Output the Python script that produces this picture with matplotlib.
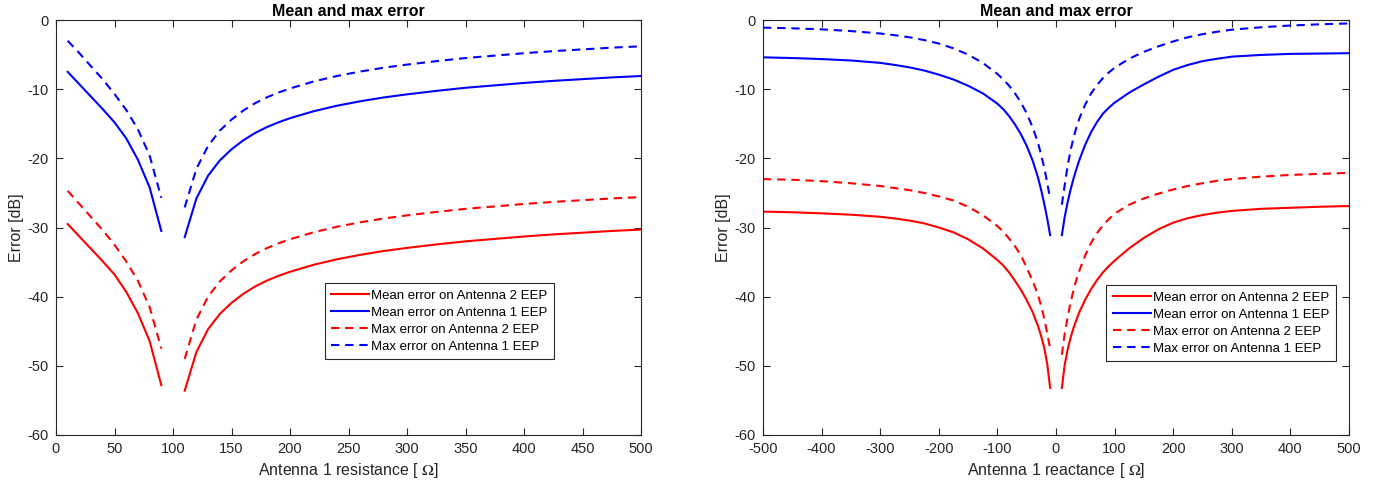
import numpy as np
import matplotlib
matplotlib.use('Agg')
import matplotlib.pyplot as plt

plt.rcParams['font.family'] = ['Liberation Sans', 'DejaVu Sans']
plt.rcParams['mathtext.fontset'] = 'stix'
plt.rcParams['axes.unicode_minus'] = False

nan = np.nan

# ---- left panel: sweep of antenna 1 resistance ----
res = [10, 20, 30, 40, 50, 60, 70, 80, 90, 100,
       110, 120, 130, 140, 150, 160, 170, 180, 190, 200,
       220, 240, 260, 280, 300, 325, 350, 375, 400, 425, 450, 475, 500]

res_mean_ant2 = [-29.5, -31.3, -33.1, -34.9, -36.8, -39.3, -42.4, -46.4, -52.8, nan,
                 -53.6, -48.0, -44.7, -42.5, -40.9, -39.6, -38.55, -37.7, -37.0, -36.4,
                 -35.4, -34.6, -33.95, -33.4, -32.95, -32.45, -32.0, -31.65, -31.3, -31.0, -30.75, -30.5, -30.3]
res_mean_ant1 = [-7.5, -9.3, -11.1, -12.9, -14.8, -17.1, -20.2, -24.2, -30.5, nan,
                 -31.4, -25.8, -22.5, -20.3, -18.7, -17.4, -16.35, -15.5, -14.8, -14.2,
                 -13.2, -12.4, -11.75, -11.2, -10.75, -10.25, -9.8, -9.45, -9.1, -8.8, -8.55, -8.3, -8.1]
res_max_ant2 = [-24.7, -26.6, -28.5, -30.4, -32.5, -34.9, -37.7, -41.5, -47.5, nan,
                -49.0, -43.3, -40.0, -37.8, -36.2, -34.9, -33.85, -33.0, -32.3, -31.7,
                -30.7, -29.9, -29.25, -28.7, -28.25, -27.75, -27.3, -26.95, -26.6, -26.3, -26.05, -25.8, -25.6]
res_max_ant1 = [-3.0, -4.8, -6.7, -8.6, -10.7, -13.0, -15.8, -19.6, -25.7, nan,
                -27.1, -21.5, -18.2, -16.0, -14.4, -13.1, -12.05, -11.2, -10.5, -9.9,
                -8.9, -8.1, -7.45, -6.9, -6.45, -5.95, -5.5, -5.15, -4.8, -4.5, -4.25, -4.0, -3.8]

# ---- right panel: sweep of antenna 1 reactance ----
reac = [-500, -450, -400, -350, -300, -275, -250, -225, -200, -175, -150, -125, -100,
        -90, -80, -70, -60, -50, -40, -35, -30, -25, -20, -15, -10,
        0,
        10, 15, 20, 25, 30, 35, 40, 50, 60, 70, 80, 90, 100,
        125, 150, 175, 200, 225, 250, 275, 300, 350, 400, 450, 500]

reac_mean_ant2 = [-27.7, -27.8, -27.95, -28.15, -28.45, -28.7, -29.0, -29.4, -30.0, -30.7, -31.7, -33.0, -34.7,
                  -35.5, -36.5, -37.7, -39.0, -40.5, -42.2, -43.3, -44.4, -45.8, -47.4, -49.7, -53.2,
                  nan,
                  -53.2, -49.8, -47.6, -45.9, -44.5, -43.3, -42.2, -40.4, -38.9, -37.6, -36.5, -35.6, -34.8,
                  -33.0, -31.5, -30.25, -29.3, -28.65, -28.2, -27.85, -27.6, -27.3, -27.15, -27.0, -26.9]
reac_mean_ant1 = [-5.4, -5.5, -5.65, -5.85, -6.2, -6.5, -6.85, -7.3, -7.9, -8.6, -9.5, -10.6, -12.1,
                  -12.9, -13.9, -15.1, -16.5, -18.2, -20.3, -21.6, -23.0, -24.7, -26.6, -28.7, -31.1,
                  nan,
                  -31.1, -28.4, -26.3, -24.5, -22.9, -21.5, -20.2, -18.0, -16.2, -14.75, -13.55, -12.7, -11.95,
                  -10.5, -9.3, -8.2, -7.2, -6.5, -5.95, -5.6, -5.3, -5.05, -4.9, -4.85, -4.8]
reac_max_ant2 = [-23.0, -23.1, -23.3, -23.6, -24.0, -24.3, -24.6, -25.0, -25.5, -26.1, -27.0, -28.2, -29.8,
                 -30.6, -31.6, -32.7, -34.0, -35.8, -37.7, -38.8, -40.0, -41.4, -43.2, -45.3, -47.5,
                 nan,
                 -48.4, -45.3, -42.9, -40.8, -39.0, -37.5, -36.2, -34.0, -32.2, -30.8, -29.7, -28.8, -28.0,
                 -26.7, -25.8, -25.1, -24.5, -24.0, -23.6, -23.25, -23.0, -22.65, -22.4, -22.25, -22.1]
reac_max_ant1 = [-1.1, -1.2, -1.35, -1.6, -1.95, -2.2, -2.5, -2.9, -3.4, -4.1, -5.0, -6.2, -7.8,
                 -8.6, -9.5, -10.6, -11.9, -13.5, -15.5, -16.7, -18.0, -19.6, -21.4, -23.5, -25.9,
                 nan,
                 -26.7, -23.8, -21.0, -18.8, -17.0, -15.5, -14.2, -12.2, -10.6, -9.4, -8.4, -7.6, -6.9,
                 -5.6, -4.6, -3.8, -3.1, -2.5, -2.05, -1.7, -1.4, -1.05, -0.8, -0.62, -0.5]

labels = ['Mean error on Antenna 2 EEP', 'Mean error on Antenna 1 EEP',
          'Max error on Antenna 2 EEP', 'Max error on Antenna 1 EEP']

axcol = (0.15, 0.15, 0.15)
dash = (0, (4, 2.8))
lw = 1.5

fig = plt.figure(figsize=(13.89, 4.88), dpi=100)
ax1 = fig.add_axes([56/1389, 53/488, 585/1389, 415/488])
ax2 = fig.add_axes([763/1389, 53/488, 586/1389, 415/488])


def style(ax):
    for s in ax.spines.values():
        s.set_color(axcol)
        s.set_linewidth(0.8)
    ax.tick_params(direction='in', top=True, right=True, length=5, width=0.8,
                   colors=axcol, labelsize=10.5, pad=5)
    ax.set_ylim(-60, 0)
    ax.set_yticks(range(-60, 1, 10))
    ax.set_ylabel('Error [dB]', fontsize=11.5, color=axcol, labelpad=3)
    ax.set_title('Mean and max error', fontsize=11.5, fontweight='bold', pad=3)


def draw(ax, x, a, b, c, d, anchor):
    ax.plot(x, a, color='red', lw=lw, label=labels[0])
    ax.plot(x, b, color='blue', lw=lw, label=labels[1])
    ax.plot(x, c, color='red', lw=lw, ls=dash, label=labels[2])
    ax.plot(x, d, color='blue', lw=lw, ls=dash, label=labels[3])
    leg = ax.legend(loc='upper left', bbox_to_anchor=anchor, fontsize=9.5,
                    fancybox=False, framealpha=1, edgecolor=axcol,
                    handlelength=2.9, handletextpad=0.15, labelspacing=0.35,
                    borderpad=0.5, borderaxespad=0)
    leg.get_frame().set_linewidth(0.8)


draw(ax1, res, res_mean_ant2, res_mean_ant1, res_max_ant2, res_max_ant1, (0.459, 0.366))
style(ax1)
ax1.set_xlim(0, 500)
ax1.set_xticks(range(0, 501, 50))
ax1.set_xlabel(r'Antenna 1 resistance [ $\Omega$]', fontsize=11.5, color=axcol, labelpad=4)

draw(ax2, reac, reac_mean_ant2, reac_mean_ant1, reac_max_ant2, reac_max_ant1, (0.586, 0.361))
style(ax2)
ax2.set_xlim(-500, 500)
ax2.set_xticks(range(-500, 501, 100))
ax2.set_xlabel(r'Antenna 1 reactance [ $\Omega$]', fontsize=11.5, color=axcol, labelpad=4)

fig.savefig('out.png', dpi=100)
